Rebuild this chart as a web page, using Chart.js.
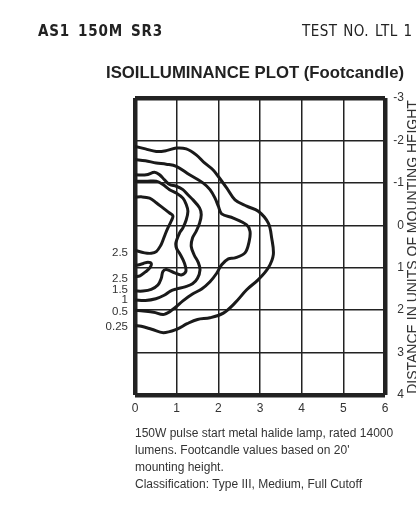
<!DOCTYPE html>
<html>
<head>
<meta charset="utf-8">
<script src="https://cdn.jsdelivr.net/npm/chart.js@4.4.1/dist/chart.umd.min.js"></script>
<style>
  body { margin: 0; background: #fff; }
  #wrap { position: relative; width: 416px; height: 506px; overflow: hidden; }
  #wrap canvas { position: absolute; left: 0; top: 0; }
  .hdr { position: absolute; top: 21px; font-family: "DejaVu Sans", sans-serif; font-size: 16.5px; line-height: 20px; color: #222; white-space: nowrap; transform: scaleX(0.82); transform-origin: 0 0; }
  #model { left: 38px; font-weight: bold; letter-spacing: 1px; word-spacing: 3px; }
  #test { left: 302px; letter-spacing: 0.5px; word-spacing: 1.5px; }
  #ytitle { position: absolute; left: 262px; top: 239.5px; width: 300px; height: 14px; line-height: 14px; font-family: "Liberation Sans", Arial, sans-serif; font-size: 14px; color: #333; text-align: center; white-space: nowrap; transform: rotate(-90deg); }
  #note { position: absolute; left: 135px; top: 425px; font-family: "Liberation Sans", Arial, sans-serif; font-size: 12px; line-height: 17px; color: #333; white-space: nowrap; }
</style>
</head>
<body>
<div id="wrap">
  <canvas id="isoChart" width="416" height="506"></canvas>
  <div class="hdr" id="model">AS1 150M SR3</div>
  <div class="hdr" id="test">TEST NO. LTL 1</div>
  <div id="ytitle">DISTANCE IN UNITS OF MOUNTING HEIGHT</div>
  <div id="note">150W pulse start metal halide lamp, rated 14000<br>lumens. Footcandle values based on 20'<br>mounting height.<br>Classification: Type III, Medium, Full Cutoff</div>
</div>
<script>
// contour lines, x = distance across, y = distance along (mounting heights)
const c025x = [0, 0.25, 0.51, 0.75, 0.99, 1.23, 1.47, 1.67, 1.87, 2.0, 2.2, 2.4, 2.68, 2.96, 3.2, 3.28, 3.32, 3.2, 2.96, 2.68, 2.4, 2.12, 1.8, 1.5, 1.25, 1.0, 0.68, 0.4, 0.15, 0];
const c025y = [-1.86, -1.8, -1.74, -1.76, -1.82, -1.8, -1.66, -1.47, -1.31, -1.15, -0.88, -0.6, -0.45, -0.33, -0.05, 0.3, 0.69, 1.0, 1.28, 1.52, 1.83, 2.07, 2.18, 2.22, 2.32, 2.45, 2.53, 2.45, 2.38, 2.36];

const c05x = [0, 0.25, 0.51, 0.75, 0.99, 1.31, 1.63, 1.8, 1.92, 2.0, 2.08, 2.36, 2.68, 2.76, 2.74, 2.64, 2.4, 2.24, 2.08, 1.96, 1.8, 1.6, 1.38, 1.15, 0.95, 0.7, 0.45, 0.2, 0];
const c05y = [-1.55, -1.52, -1.47, -1.44, -1.39, -1.19, -1.0, -0.84, -0.64, -0.45, -0.27, -0.17, -0.01, 0.14, 0.38, 0.65, 0.77, 0.79, 0.93, 1.13, 1.33, 1.5, 1.62, 1.78, 1.95, 2.1, 2.05, 2.02, 2.0];

const c1x = [0, 0.27, 0.47, 0.59, 0.71, 0.83, 0.99, 1.15, 1.27, 1.39, 1.55, 1.59, 1.55, 1.47, 1.38, 1.35, 1.42, 1.52, 1.56, 1.5, 1.38, 1.2, 1.0, 0.85, 0.7, 0.5, 0.25, 0];
const c1y = [-1.19, -1.19, -1.25, -1.19, -1.07, -0.96, -0.92, -0.84, -0.72, -0.6, -0.41, -0.25, -0.05, 0.14, 0.3, 0.5, 0.7, 0.88, 1.05, 1.25, 1.38, 1.45, 1.5, 1.55, 1.65, 1.73, 1.77, 1.76];

const c15x = [0, 0.3, 0.51, 0.67, 0.83, 0.99, 1.15, 1.23, 1.27, 1.23, 1.15, 1.07, 0.98, 1.0, 1.07, 1.19, 1.22, 1.11, 0.95, 0.75, 0.67, 0.63, 0.55, 0.39, 0.19, 0];
const c15y = [-1.04, -1.04, -1.04, -0.96, -0.84, -0.76, -0.64, -0.49, -0.33, -0.13, 0.06, 0.18, 0.42, 0.55, 0.66, 0.9, 1.09, 1.17, 1.12, 1.04, 1.09, 1.25, 1.41, 1.51, 1.55, 1.55];

const c25x = [0, 0.15, 0.35, 0.51, 0.67, 0.83, 0.91, 0.87, 0.79, 0.73, 0.68, 0.62, 0.51, 0.39, 0.23, 0];
const c25y = [-0.66, -0.67, -0.64, -0.53, -0.41, -0.29, -0.22, -0.1, 0.06, 0.2, 0.33, 0.47, 0.62, 0.66, 0.65, 0.59];

const c25bx = [0, 0.1, 0.2, 0.31, 0.39, 0.36, 0.25, 0.12, 0];
const c25by = [0.95, 0.93, 0.9, 0.87, 0.9, 1.0, 1.1, 1.19, 1.21];

// labels at the left ends of the contours
const contourLabels = ['2.5', '2.5', '1.5', '1', '0.5', '0.25'];
const labelY = [0.65, 1.27, 1.53, 1.76, 2.04, 2.40];

const xTicks = [0, 1, 2, 3, 4, 5, 6];
const yTicks = [-3, -2, -1, 0, 1, 2, 3, 4];

const FONT = "'Liberation Sans', Arial, sans-serif";

function pts(xs, ys) {
    return xs.map((x, i) => ({x: x, y: ys[i]}));
}
function line(xs, ys) {
    return {
        data: pts(xs, ys),
        showLine: true,
        borderColor: '#1a1a1a',
        borderWidth: 3,
        pointRadius: 0,
        fill: false,
        tension: 0.35,
        borderJoinStyle: 'round',
        borderCapStyle: 'round',
        yAxisID: 'y'
    };
}

const edge = (v, a, b) => (v === a || v === b) ? 4.5 : 1.5;

new Chart(document.getElementById('isoChart'), {
    type: 'scatter',
    data: {
        datasets: [
            line(c025x, c025y),
            line(c05x, c05y),
            line(c1x, c1y),
            line(c15x, c15y),
            line(c25x, c25y),
            line(c25bx, c25by)
        ]
    },
    options: {
        responsive: false,
        animation: false,
        events: [],
        layout: { padding: { left: 106, right: 12, top: 63, bottom: 86 } },
        plugins: {
            legend: { display: false },
            tooltip: { enabled: false },
            title: {
                display: true,
                text: 'ISOILLUMINANCE PLOT (Footcandle)',
                color: '#222',
                font: { family: FONT, size: 17, weight: 'bold' },
                padding: { top: 0, bottom: 14.6 }
            }
        },
        scales: {
            x: {
                type: 'linear',
                min: xTicks[0],
                max: xTicks[xTicks.length - 1],
                afterBuildTicks: s => { s.ticks = xTicks.map(v => ({value: v})); },
                afterFit: s => { s.height = 25; },
                grid: { color: '#222', lineWidth: c => edge(c.tick.value, 0, 6), drawTicks: false },
                border: { display: false },
                ticks: { color: '#333', padding: 6, font: { family: FONT, size: 12 } }
            },
            y: {
                type: 'linear',
                position: 'right',
                reverse: true,
                min: yTicks[0],
                max: yTicks[yTicks.length - 1],
                afterBuildTicks: s => { s.ticks = yTicks.map(v => ({value: v})); },
                afterFit: s => { s.width = 19; },
                grid: { color: '#222', lineWidth: c => edge(c.tick.value, -3, 4), drawTicks: false },
                border: { display: false },
                ticks: { color: '#333', padding: 8, crossAlign: 'far', font: { family: FONT, size: 12 } }
            },
            yl: {
                type: 'linear',
                position: 'left',
                reverse: true,
                min: yTicks[0],
                max: yTicks[yTicks.length - 1],
                afterBuildTicks: s => { s.ticks = labelY.map(v => ({value: v})); },
                afterFit: s => { s.width = 29; },
                grid: { display: false, drawTicks: false },
                border: { display: false },
                ticks: {
                    autoSkip: false,
                    color: '#333',
                    padding: 7,
                    font: { family: FONT, size: 11.5 },
                    callback: (v, i) => contourLabels[i]
                }
            }
        }
    }
});
</script>
</body>
</html>
